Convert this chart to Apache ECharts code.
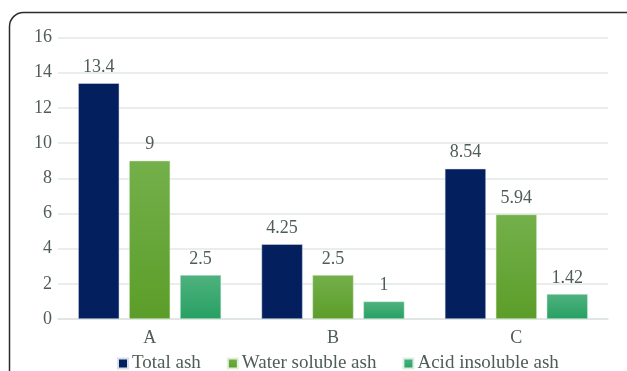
<!DOCTYPE html>
<html>
<head>
<meta charset="utf-8">
<script src="https://cdn.jsdelivr.net/npm/echarts@6/dist/echarts.min.js"></script>
<style>
  html, body { margin: 0; padding: 0; background: #fff; }
  #chart { width: 627px; height: 371px; }
</style>
</head>
<body>
<div id="chart"></div>
<script>
// Ash content per sample
const categories = ['A', 'B', 'C'];
const totalAsh = [13.4, 4.25, 8.54];
const waterSolubleAsh = [9, 2.5, 5.94];
const acidInsolubleAsh = [2.5, 1, 1.42];
const seriesNames = ['Total ash', 'Water soluble ash', 'Acid insoluble ash'];

const textColor = '#4e5d55';
const fontFamily = 'Liberation Serif';

function vGrad(top, bottom) {
  return new echarts.graphic.LinearGradient(0, 0, 0, 1, [
    { offset: 0, color: top },
    { offset: 1, color: bottom }
  ]);
}

const labelStyle = {
  show: true,
  position: 'top',
  distance: 7,
  color: textColor,
  fontFamily: fontFamily,
  fontSize: 18
};

const chart = echarts.init(document.getElementById('chart'), null, { renderer: 'canvas' });

chart.setOption({
  animation: false,
  textStyle: { fontFamily: fontFamily },
  graphic: [{
    type: 'rect',
    shape: { x: 9.5, y: 12.5, width: 640, height: 400, r: 14 },
    style: { fill: 'none', stroke: '#2b2b2b', lineWidth: 1.5 },
    z: 100
  }],
  grid: { left: 58, right: 19, top: 37.5, bottom: 52 },
  legend: {
    data: seriesNames,
    bottom: -7,
    left: 112,
    itemWidth: 10,
    itemHeight: 10,
    itemGap: 26,
    icon: 'rect',
    textStyle: { color: textColor, fontFamily: fontFamily, fontSize: 19, padding: [0, 0, 0, -1] }
  },
  xAxis: {
    type: 'category',
    data: categories,
    axisLine: { lineStyle: { color: '#dde3e0', width: 1.5 } },
    axisTick: { show: false },
    axisLabel: { color: textColor, fontFamily: fontFamily, fontSize: 18, margin: 10 }
  },
  yAxis: {
    type: 'value',
    min: 0,
    max: 16,
    interval: 2,
    axisLine: { show: false },
    axisTick: { show: false },
    splitLine: { lineStyle: { color: '#e2e8e5', width: 1.5 } },
    axisLabel: { color: textColor, fontFamily: fontFamily, fontSize: 18, margin: 6 }
  },
  series: [
    {
      name: seriesNames[0],
      type: 'bar',
      data: totalAsh,
      barWidth: '22.4%',
      barGap: '24%',
      itemStyle: { color: '#031f5e', borderColor: '#d8e0ea', borderWidth: 0.5 },
      label: labelStyle
    },
    {
      name: seriesNames[1],
      type: 'bar',
      data: waterSolubleAsh,
      barWidth: '22.4%',
      barGap: '24%',
      itemStyle: { color: vGrad('#74b04b', '#5b9d29'), borderColor: '#e3efd9', borderWidth: 0.5 },
      label: labelStyle
    },
    {
      name: seriesNames[2],
      type: 'bar',
      data: acidInsolubleAsh,
      barWidth: '22.4%',
      barGap: '24%',
      itemStyle: { color: vGrad('#4fb27e', '#27a063'), borderColor: '#dcefe4', borderWidth: 0.5 },
      label: labelStyle
    }
  ]
});
</script>
</body>
</html>
